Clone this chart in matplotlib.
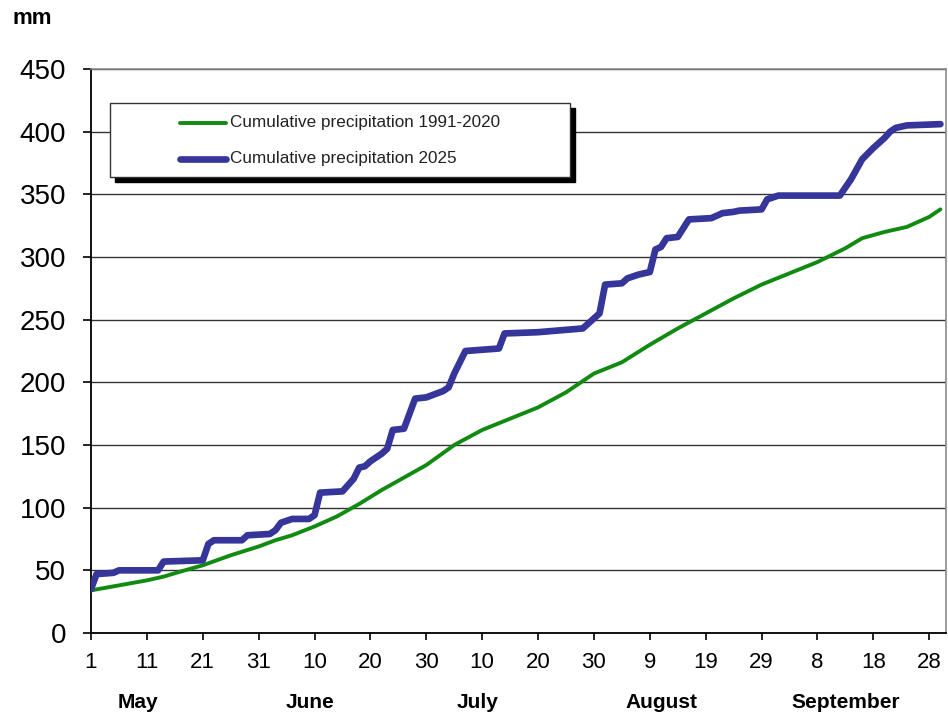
import matplotlib
matplotlib.use("Agg")
import matplotlib.pyplot as plt
from matplotlib.patches import Rectangle
from matplotlib.lines import Line2D
import matplotlib.transforms as mtransforms

plt.rcParams['font.family'] = ['Liberation Sans', 'DejaVu Sans']

# ---- data (day index: 0 = 1 May, 152 = 30 Sep) ----
normal_days = [0, 5, 10, 13, 16, 20, 25, 30, 33, 36, 40, 44, 48, 52, 56, 60, 65, 70,
               75, 80, 85, 90, 95, 100, 105, 110, 115, 120, 125, 130, 135, 138, 142,
               146, 150, 152]
normal_vals = [34, 38, 42, 45, 49, 54, 62, 69, 74, 78, 85, 93, 103, 114, 124, 134, 150, 162,
               171, 180, 192, 207, 216, 230, 243, 255, 267, 278, 287, 296, 307, 315, 320,
               324, 332, 338]

y2025_days = [0, 1, 4, 5, 12, 13, 20, 21, 22, 27, 28, 32, 33, 34, 36, 39, 40, 41, 45, 46,
              47, 48, 49, 50, 52, 53, 54, 56, 58, 60, 63, 64, 65, 67, 73, 74, 80, 88, 89,
              90, 91, 92, 95, 96, 98, 100, 101, 102, 103, 105, 107, 111, 113, 115, 116,
              120, 121, 123, 134, 136, 138, 140, 142, 143, 144, 146, 152]
y2025_vals = [35, 47, 48, 50, 50, 57, 58, 71, 74, 74, 78, 79, 82, 88, 91, 91, 94, 112, 113,
              118, 123, 132, 133, 137, 143, 147, 162, 163, 187, 188, 193, 196, 207, 225,
              227, 239, 240, 243, 247, 251, 255, 278, 279, 283, 286, 288, 306, 308, 315,
              316, 330, 331, 335, 336, 337, 338, 346, 349, 349, 362, 378, 387, 395, 400,
              403, 405, 406]

tick_days = [0, 10, 20, 30, 40, 50, 60, 70, 80, 90, 100, 110, 120, 130, 140, 150]
tick_labels = ['1', '11', '21', '31', '10', '20', '30', '10', '20', '30', '9', '19',
               '29', '8', '18', '28']
months = ['May', 'June', 'July', 'August', 'September']
month_pos = [8.4, 39.2, 69.2, 102.1, 135.0]

label_normal = 'Cumulative precipitation 1991-2020'
label_2025 = 'Cumulative precipitation 2025'

green = '#118a11'
blue = '#35359a'

W, H = 948, 718
fig = plt.figure(figsize=(W / 100, H / 100), dpi=100)
L, R, T, B = 91, 946, 69, 633
ax = fig.add_axes([L / W, 1 - B / H, (R - L) / W, (B - T) / H])

ax.plot(normal_days, normal_vals, color=green, lw=2.8, solid_capstyle='round', zorder=3)
ax.plot(y2025_days, y2025_vals, color=blue, lw=4.8, solid_capstyle='round',
        solid_joinstyle='round', zorder=4)

ax.set_xlim(0, 153)
ax.set_ylim(0, 450)
ax.set_yticks(range(0, 451, 50))
ax.set_xticks(tick_days)
ax.set_xticklabels(tick_labels)
ax.grid(axis='y', color='#333333', lw=1.0)
ax.set_axisbelow(True)

for s in ['left', 'bottom']:
    ax.spines[s].set_color('black')
    ax.spines[s].set_linewidth(1.3)
for s in ['top', 'right']:
    ax.spines[s].set_color('#8a8a8a')
    ax.spines[s].set_linewidth(1.2)

ax.tick_params(axis='y', direction='out', length=6, width=1.2, pad=12, labelsize=20)
ax.tick_params(axis='x', direction='out', length=5, width=1.2, pad=9, labelsize=16)

trans = mtransforms.blended_transform_factory(ax.transData, ax.transAxes)
for m, p in zip(months, month_pos):
    ax.text(p, -0.123, m, transform=trans, ha='center', va='center',
            fontsize=15, fontweight='bold')

fig.text(12 / W, 1 - 18 / H, 'mm', ha='left', va='center', fontsize=16, fontweight='bold')

# ---- legend box with hard shadow ----
def px2ax(x, y):
    return (x - L) / (R - L), (B - y) / (B - T)

bx0, by0, bx1, by1 = 110, 103, 570, 177
sx0, sy0 = px2ax(bx0 + 5, by1 + 5)
sx1, sy1 = px2ax(bx1 + 5, by0 + 5)
ax.add_patch(Rectangle((sx0, sy0), sx1 - sx0, sy1 - sy0, transform=ax.transAxes,
                       facecolor='black', edgecolor='black', zorder=6, clip_on=False))
x0, y0 = px2ax(bx0, by1)
x1, y1 = px2ax(bx1, by0)
ax.add_patch(Rectangle((x0, y0), x1 - x0, y1 - y0, transform=ax.transAxes,
                       facecolor='white', edgecolor='#333333', lw=1.0, zorder=7,
                       clip_on=False))

for ypix, col, lw, lab in [(122.5, green, 2.8, label_normal), (158.5, blue, 4.8, label_2025)]:
    lx0, ly = px2ax(180, ypix)
    lx1, _ = px2ax(226, ypix)
    ax.add_line(Line2D([lx0, lx1], [ly, ly], transform=ax.transAxes, color=col, lw=lw,
                       solid_capstyle='round', zorder=8))
    tx, _ = px2ax(230, ypix)
    ax.text(tx, ly, lab, transform=ax.transAxes, ha='left', va='center', fontsize=12.3,
            color='#222222', zorder=8)

fig.savefig('out.png', dpi=100)
